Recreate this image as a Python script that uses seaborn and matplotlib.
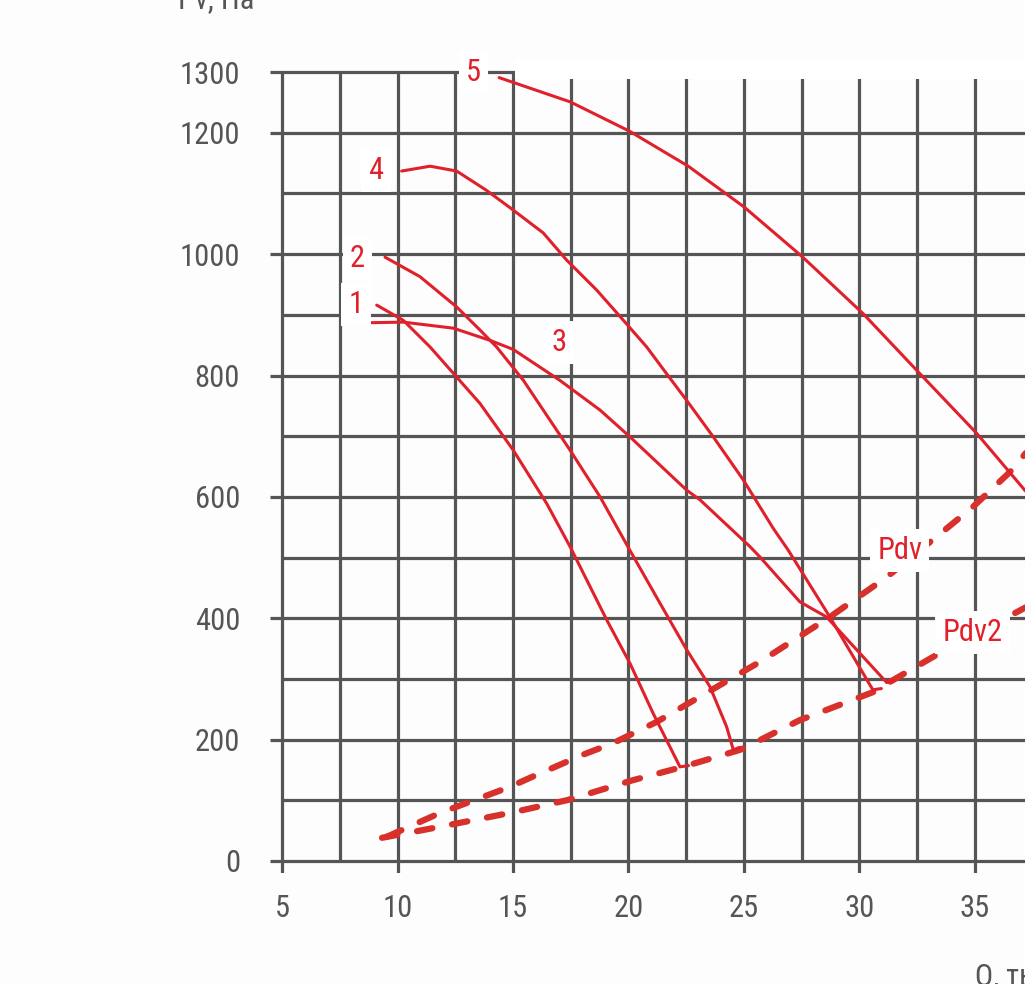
import numpy as np
import pandas as pd
import seaborn as sns
import matplotlib.pyplot as plt
from matplotlib.patches import Rectangle

# fan curves: Q in thousand m3/h, Pv in Pa
q1 = [9.10, 10.25, 11.41, 13.57, 15.01, 16.46, 17.47, 19.06, 20.06, 21.07, 22.23, 22.60]
p1 = [916, 891, 847, 754, 677, 589, 518, 397, 326, 243, 155, 157]
q2 = [9.46, 10.97, 12.56, 13.57, 14.29, 15.45, 17.47, 18.77, 20.06, 21.36, 22.52, 23.53, 24.25, 24.54, 24.80]
p2 = [995, 963, 913, 875, 847, 792, 677, 600, 512, 425, 348, 287, 221, 183, 187]
q3 = [8.81, 10.25, 12.42, 14.00, 15.01, 17.03, 18.77, 20.06, 22.52, 23.10, 25.26, 25.69, 27.42, 28.58, 31.18, 31.50]
p3 = [887, 888, 878, 858, 843, 792, 743, 699, 611, 595, 518, 501, 427, 402, 294, 297]
q4 = [10.18, 11.41, 12.56, 13.86, 14.93, 16.31, 17.33, 18.62, 19.78, 20.79, 21.65, 22.52, 23.67,
      24.97, 26.27, 26.92, 28.72, 30.58, 30.95]
p4 = [1137, 1145, 1137, 1105, 1075, 1035, 990, 941, 891, 847, 803, 759, 699,
      628, 548, 512, 402, 282, 284]
q5 = [14.40, 17.48, 20.03, 22.59, 25.00, 27.52, 30.16, 32.62, 35.07, 37.16, 37.60]
p5 = [1291, 1251, 1203, 1145, 1078, 996, 902, 803, 705, 611, 593]

# dynamic pressure lines
q_pdv = [9.55, 11.84, 14.87, 15.74, 18.03, 19.33, 21.22, 24.83, 25.69, 28.72, 31.19, 33.78, 34.93, 36.52, 37.60]
p_pdv = [40, 79, 122, 137, 175, 194, 229, 309, 328, 402, 468, 548, 584, 641, 690]
q_pdv2 = [9.33, 11.54, 14.87, 17.34, 20.19, 22.36, 24.83, 25.69, 27.42, 30.58, 31.32, 33.18, 37.60]
p_pdv2 = [38, 54, 79, 100, 133, 155, 183, 199, 232, 278, 295, 336, 426]

curve_labels = ['1', '2', '3', '4', '5']
label_pos = [(8.2, 917), (8.25, 993), (17.0, 855), (9.07, 1138), (13.27, 1300)]
line_labels = ['Pdv', 'Pdv2']
line_label_pos = [(31.75, 512), (34.9, 377)]

x_ticks = [5, 10, 15, 20, 25, 30, 35]
y_ticks = [0, 200, 400, 600, 800, 1000, 1200, 1300]
x_grid = np.arange(5, 40, 2.5)
y_grid = np.arange(0, 1400, 100)

sns.set_style('white')
plt.rcParams['font.family'] = ['Roboto Condensed', 'Roboto', 'DejaVu Sans']

red = '#e0202a'
dash_red = '#d8302a'
grid_c = '#555555'

fig = plt.figure(figsize=(10.25, 9.84), dpi=100, facecolor='#fdfdfd')
ax = fig.add_axes([0.2639, 0.1128, 0.7361, 0.8262])
ax.set_facecolor('#fdfdfd')
ax.set_xlim(4.5, 37.17)
ax.set_ylim(-20, 1320)

# grid, the labelled lines stick out a little as ticks
for x in x_grid:
    lo = -20 if x in x_ticks else 0
    ax.vlines(x, lo, 1300, color=grid_c, lw=2.3, zorder=1)
for y in y_grid:
    lo = 4.5 if y in y_ticks else 5
    ax.hlines(y, lo, 40, color=grid_c, lw=2.3, zorder=1)

# white patch over the top right corner of the grid
ax.add_patch(Rectangle((15.08, 1289), 30, 100, facecolor='white', edgecolor='none', zorder=2))

curves = [(q1, p1), (q2, p2), (q3, p3), (q4, p4), (q5, p5)]
for q, p in curves:
    df = pd.DataFrame({'Q': q, 'Pv': p})
    sns.lineplot(data=df, x='Q', y='Pv', sort=False, color=red, lw=2.2, ax=ax, zorder=4)

for q, p in [(q_pdv, p_pdv), (q_pdv2, p_pdv2)]:
    df = pd.DataFrame({'Q': q, 'Pv': p})
    sns.lineplot(data=df, x='Q', y='Pv', sort=False, color=dash_red, lw=4.5, ax=ax, zorder=3,
                 dashes=False, linestyle=(0, (2.5, 3.2)), dash_capstyle='round')

box = dict(facecolor='white', edgecolor='none', pad=5)
for t, (x, y) in zip(curve_labels, label_pos):
    ax.text(x, y, t, color=red, fontsize=22, ha='center', va='center', bbox=box, zorder=5)
for t, (x, y) in zip(line_labels, line_label_pos):
    ax.text(x, y, t, color=red, fontsize=22, ha='center', va='center', bbox=box, zorder=5)

ax.set_xticks(x_ticks)
ax.set_yticks(y_ticks)
ax.tick_params(axis='both', length=0, labelsize=22, labelcolor=grid_c)
ax.tick_params(axis='x', pad=15)
ax.tick_params(axis='y', pad=22)
ax.set_xlabel('')
ax.set_ylabel('')
for s in ax.spines.values():
    s.set_visible(False)

fig.text(0.1737, 0.9919, 'Pv, Па', fontsize=22, color=grid_c, ha='left', va='baseline')
fig.text(0.951, -0.001, 'Q, тыс. м³/ч', fontsize=22, color=grid_c, ha='left', va='baseline')

plt.savefig('out.png', dpi=100, facecolor=fig.get_facecolor())
plt.close()
